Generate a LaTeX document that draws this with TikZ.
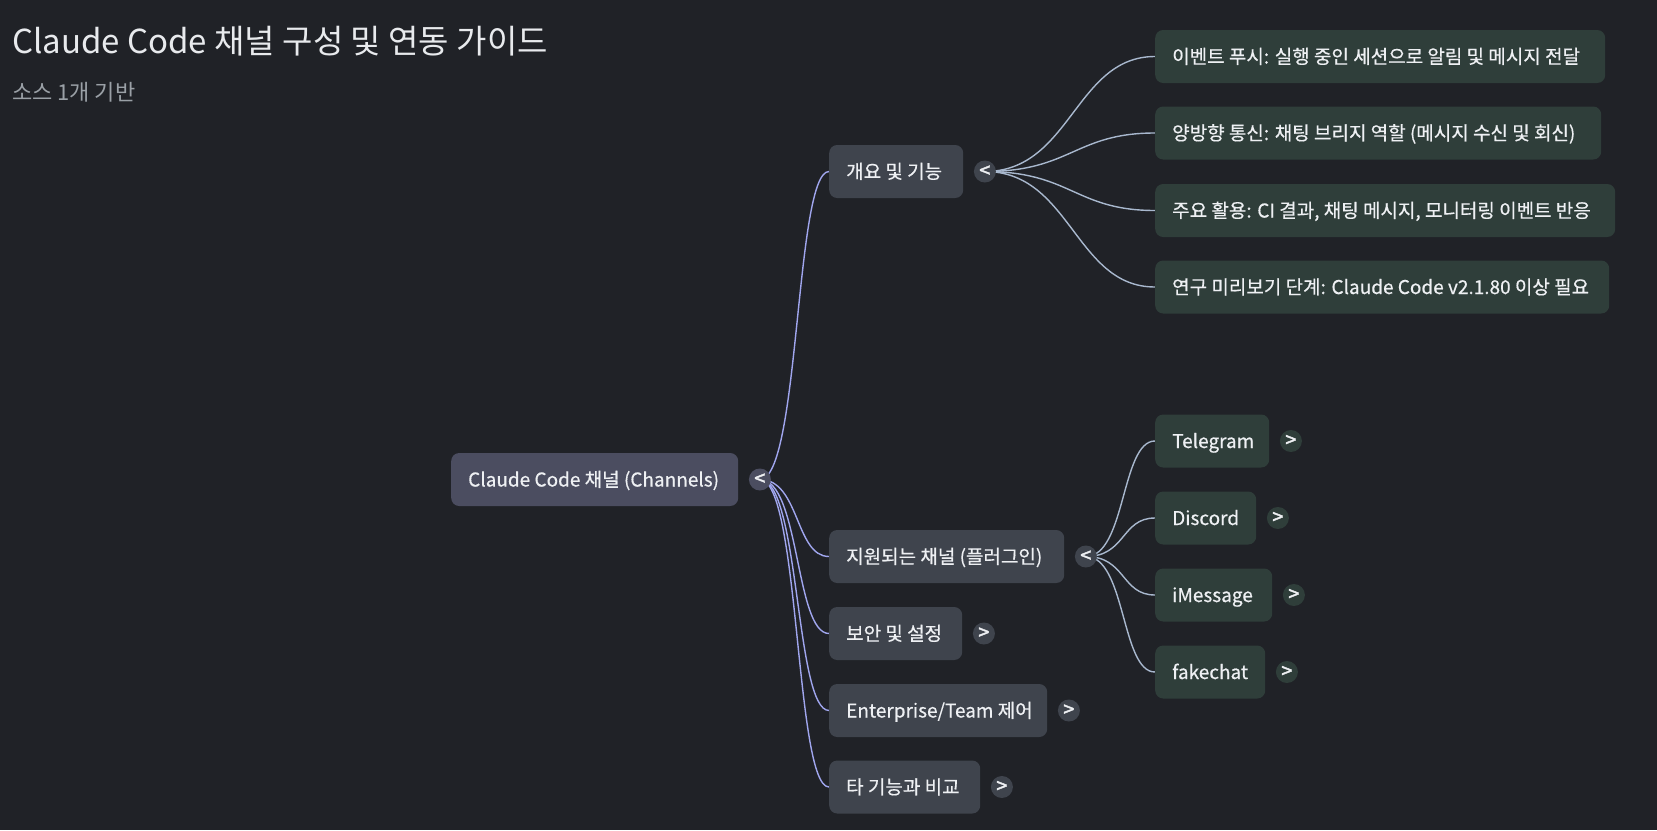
\documentclass[tikz,border=0pt]{standalone}
\usepackage{fontspec}
\setmainfont{Noto Sans CJK KR}
\newfontfamily\nodefont{Noto Sans CJK KR}[FakeBold=0.5]
\newfontfamily\togfont{Noto Sans CJK KR}[FakeBold=2]
\definecolor{bgc}{HTML}{202227}
\definecolor{rootc}{HTML}{4B4D60}
\definecolor{grayc}{HTML}{3F444D}
\definecolor{greenc}{HTML}{2F3E3A}
\definecolor{txt}{HTML}{EEF0F3}
\definecolor{titlec}{HTML}{E8EAED}
\definecolor{subc}{HTML}{9AA0A6}
\definecolor{lav}{HTML}{A0A6EE}
\definecolor{steel}{HTML}{A8B8CE}
\newcommand\boxtxt[2]{\makebox[#1pt][l]{#2}}
\pgfdeclarelayer{bglayer}
\pgfsetlayers{bglayer,main}
\begin{document}
\begin{tikzpicture}[x=1pt,y=-1pt,
  base/.style={anchor=west, rounded corners=8pt, minimum height=53pt, inner xsep=17pt, inner ysep=0pt,
    text height=17pt, text depth=3pt, font=\nodefont\fontsize{19}{23}\selectfont, text=txt},
  rootbox/.style={base, fill=rootc},
  gbox/.style={base, fill=grayc},
  cbox/.style={base, fill=greenc},
  tog/.style={circle, minimum size=22pt, inner sep=0pt, font=\togfont\fontsize{20}{20}\selectfont, text=txt},
  rootedge/.style={draw=lav, line width=1.4pt},
  subedge/.style={draw=steel, line width=1.4pt}]
\begin{pgfonlayer}{bglayer}
\fill[bgc] (0,0) rectangle (1657,830);
\end{pgfonlayer}
\useasboundingbox (0,0) rectangle (1657,830);

\node[anchor=base west, inner sep=0pt, font=\fontsize{33}{38}\selectfont, text=titlec] (title) at (12,53) {Claude Code 채널 구성 및 연동 가이드};
\node[anchor=base west, inner sep=0pt, font=\fontsize{22}{25}\selectfont, text=subc] (subt) at (12,100) {소스 1개 기반};

% root
\node[rootbox] (root) at (451,479.5) {\boxtxt{253}{Claude Code 채널 (Channels)}};
\node[tog, fill=rootc] (rt) at ([xshift=21.5pt]root.east) {<};

% level 1
\node[gbox] (ov)  at (829,171.5) {\boxtxt{100}{개요 및 기능}};
\node[gbox] (sup) at (829,556.5) {\boxtxt{201}{지원되는 채널 (플러그인)}};
\node[gbox] (sec) at (829,633.5) {\boxtxt{99}{보안 및 설정}};
\node[gbox] (ent) at (829,710.5) {\boxtxt{184}{Enterprise/Team 제어}};
\node[gbox] (cmp) at (829,787)   {\boxtxt{117}{타 기능과 비교}};
\node[tog, fill=grayc] (ovt)  at ([xshift=21.5pt]ov.east) {<};
\node[tog, fill=grayc] (supt) at ([xshift=21.5pt]sup.east) {<};
\node[tog, fill=grayc] (sect) at ([xshift=21.5pt]sec.east) {>};
\node[tog, fill=grayc] (entt) at ([xshift=21.5pt]ent.east) {>};
\node[tog, fill=grayc] (cmpt) at ([xshift=21.5pt]cmp.east) {>};

% level 2 overview
\node[cbox] (e1) at (1155,56.5) {\boxtxt{416}{이벤트 푸시: 실행 중인 세션으로 알림 및 메시지 전달}};
\node[cbox] (e2) at (1155,133)  {\boxtxt{412}{양방향 통신: 채팅 브리지 역할 (메시지 수신 및 회신)}};
\node[cbox] (e3) at (1155,210.5){\boxtxt{426}{주요 활용: CI 결과, 채팅 메시지, 모니터링 이벤트 반응}};
\node[cbox] (e4) at (1155,287)  {\boxtxt{420}{연구 미리보기 단계: Claude Code v2.1.80 이상 필요}};

% level 2 channels
\node[cbox] (tg) at (1155,441) {\boxtxt{80}{Telegram}};
\node[cbox] (dc) at (1155,518) {\boxtxt{67}{Discord}};
\node[cbox] (im) at (1155,595) {\boxtxt{83}{iMessage}};
\node[cbox] (fc) at (1155,672) {\boxtxt{76}{fakechat}};
\node[tog, fill=greenc] (tgt) at ([xshift=21.5pt]tg.east) {>};
\node[tog, fill=greenc] (dct) at ([xshift=21.5pt]dc.east) {>};
\node[tog, fill=greenc] (imt) at ([xshift=21.5pt]im.east) {>};
\node[tog, fill=greenc] (fct) at ([xshift=21.5pt]fc.east) {>};

\begin{pgfonlayer}{bglayer}
\foreach \c in {ov,sup,sec,ent,cmp}
  \draw[rootedge] (rt.center) .. controls +(40,0) and +(-34,0) .. (\c.west);
\foreach \c in {e1,e2,e3,e4}
  \draw[subedge] (ovt.center) .. controls +(86,0) and +(-80,0) .. (\c.west);
\foreach \c in {tg,dc,im,fc}
  \draw[subedge] (supt.center) .. controls +(40,0) and +(-34,0) .. (\c.west);
\end{pgfonlayer}
\end{tikzpicture}
\end{document}
